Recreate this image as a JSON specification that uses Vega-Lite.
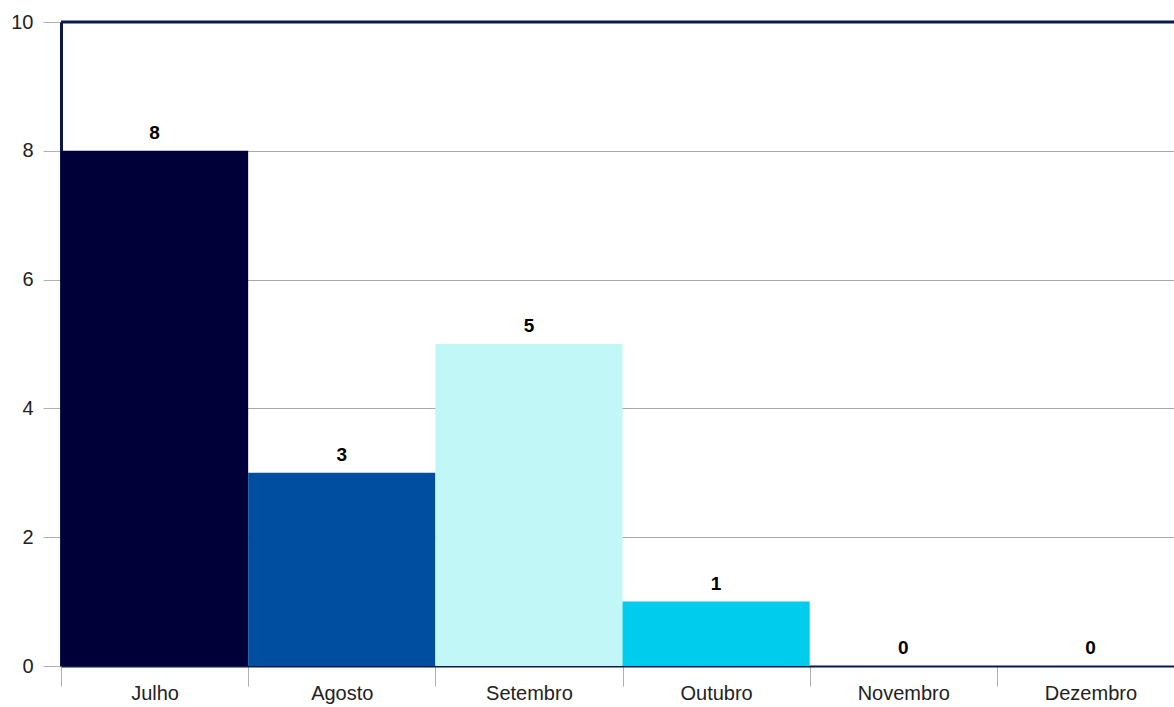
{
  "$schema": "https://vega.github.io/schema/vega-lite/v6.json",
  "width": 1113,
  "height": 644,
  "autosize": {"type": "none"},
  "padding": {"left": 61, "top": 22, "right": 0, "bottom": 41},
  "background": "white",
  "config": {"view": {"stroke": null}},
  "data": {"values": [
    {"mes": "Julho", "valor": 8},
    {"mes": "Agosto", "valor": 3},
    {"mes": "Setembro", "valor": 5},
    {"mes": "Outubro", "valor": 1},
    {"mes": "Novembro", "valor": 0},
    {"mes": "Dezembro", "valor": 0}
  ]},
  "encoding": {
    "x": {
      "field": "mes", "type": "nominal", "sort": null,
      "scale": {"paddingInner": 0, "paddingOuter": 0, "range": [0, 1123]},
      "axis": {
        "title": null, "labelAngle": 0, "tickBand": "extent",
        "domainColor": "#0b1a4d", "domainWidth": 2,
        "tickColor": "#b0b0b0", "tickSize": 20, "tickWidth": 1,
        "labelFont": "Liberation Sans", "labelFontSize": 20, "labelColor": "#222222",
        "labelPadding": 7, "labelBaseline": "middle", "labelOffset": 0
      }
    }
  },
  "layer": [
    {
      "mark": {"type": "bar", "clip": true},
      "encoding": {
        "y": {
          "field": "valor", "type": "quantitative",
          "scale": {"domain": [0, 10]},
          "axis": {
            "title": null, "values": [0, 2, 4, 6, 8, 10], "format": "d",
            "grid": true, "gridColor": "#a8a8a8", "gridWidth": 1,
            "domainColor": "#0b1a4d", "domainWidth": 3,
            "tickColor": "#b0b0b0", "tickSize": 18, "tickWidth": 1,
            "labelFont": "Liberation Sans", "labelFontSize": 20, "labelColor": "#222222",
            "labelPadding": 10
          }
        },
        "color": {
          "field": "mes", "type": "nominal", "legend": null,
          "scale": {
            "domain": ["Julho", "Agosto", "Setembro", "Outubro", "Novembro", "Dezembro"],
            "range": ["#000038", "#004ea0", "#c2f7f7", "#00ccee", "#00ccee", "#000038"]
          }
        }
      }
    },
    {
      "mark": {"type": "text", "baseline": "bottom", "dy": -8, "font": "Liberation Sans", "fontWeight": "bold", "fontSize": 19, "color": "#000000", "clip": true},
      "encoding": {
        "y": {"field": "valor", "type": "quantitative"},
        "text": {"field": "valor", "type": "quantitative"}
      }
    },
    {
      "data": {"values": [{"topo": 10}]},
      "mark": {"type": "rule", "color": "#0b1a4d", "strokeWidth": 3},
      "encoding": {"y": {"field": "topo", "type": "quantitative"}, "x": {"value": 0}, "x2": {"value": 1113}}
    }
  ]
}
